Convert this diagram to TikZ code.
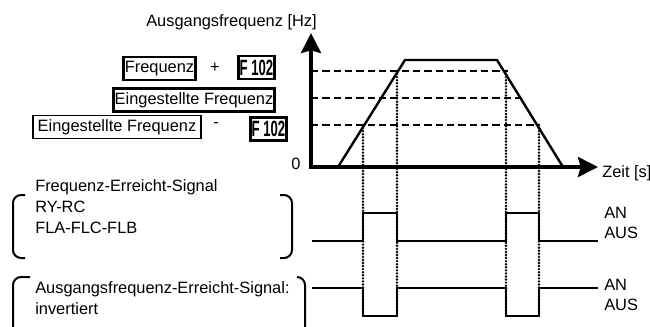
\documentclass[tikz,border=0pt]{standalone}
\usepackage{fontspec}
\setmainfont{Liberation Sans}
\usetikzlibrary{arrows.meta}

\tikzset{
  axis/.style={line width=2.6pt, {Stealth[length=15pt,width=15pt,inset=2pt]}-{Stealth[length=15pt,width=15pt,inset=2pt]}},
  ramp/.style={line width=1.8pt},
  level/.style={line width=1.6pt, dash pattern=on 5.5pt off 3pt},
  guide/.style={line width=2pt, line cap=round, dash pattern=on 0pt off 2.3pt},
  sig/.style={line width=1.6pt},
  brk/.style={line width=1.5pt, rounded corners=6pt},
  fbox/.style={draw, line width=1.8pt, inner xsep=1pt, inner ysep=0pt, minimum height=17pt},
  segtext/.style={fbox, font=\fontsize{12.3}{15}\selectfont\bfseries}
}

\begin{document}
\begin{tikzpicture}[x=0.75pt, y=-0.75pt, font=\fontsize{12.3}{15.75}\selectfont]
  \path[use as bounding box] (0,0) rectangle (650,326);

  % axes
  \coordinate (O) at (311,167);
  \coordinate (ytop) at (311,33);
  \coordinate (xend) at (598,167);
  \draw[axis] (ytop) -- (O) -- (xend);
  \node[anchor=east, inner sep=0pt] (ylabel) at (317,22) {Ausgangsfrequenz [Hz]};
  \node[anchor=west, inner sep=0pt] (xlabel) at (602,173) {Zeit [s]};
  \node[inner sep=0pt] (zero) at (296,164) {0};

  % output frequency
  \draw[ramp] (338,167) -- (405,60) -- (497,60) -- (563,167);
  \foreach \y/\e in {71/508, 98/523, 125/538}
    \draw[level] (311,\y) -- (\e,\y);
  \foreach \x/\y in {363/125, 397/71, 506/71, 539/125}
    \draw[guide] (\x,\y) -- (\x,316);

  % levels
  \node[fbox] (fq) at (159.5,68.5) {Frequenz};
  \node[inner sep=0pt] (plus) at (215,68) {+};
  \node[segtext] (fa) at (256.5,67.5) {\scalebox{0.8}[1.35]{F 102}};
  \node[fbox] (eg1) at (194,100) {Eingestellte Frequenz};
  \node[fbox, line width=1.2pt, minimum width=126pt] (eg2) at (117,127) {Eingestellte Frequenz};
  \node[inner sep=0pt] (minus) at (216,125) {-};
  \node[segtext] (fb) at (268.5,129) {\scalebox{0.8}[1.35]{F 102}};

  % signals
  \draw[sig] (312,241) -| (363,213) -| (397,241) -| (506,213) -| (539,241) -- (598,241);
  \draw[sig] (312,288) -| (363,316) -| (397,288) -| (506,316) -| (539,288) -- (598,288);
  \node[anchor=west, inner sep=0pt] (an1) at (604,213) {AN};
  \node[anchor=west, inner sep=0pt] (aus1) at (604,233) {AUS};
  \node[anchor=west, inner sep=0pt] (an2) at (604,285) {AN};
  \node[anchor=west, inner sep=0pt] (aus2) at (604,305) {AUS};

  % descriptions
  \node[anchor=north west, align=left, inner sep=0pt] (sig1) at (35,179)
    {Frequenz-Erreicht-Signal\\RY-RC\\FLA-FLC-FLB};
  \node[anchor=north west, align=left, inner sep=0pt] (sig2) at (35,281)
    {Ausgangsfrequenz-Erreicht-Signal:\\invertiert};
  \draw[brk] (25,195) -- (13,195) -- (13,258) -- (25,258);
  \draw[brk] (280,195) -- (292,195) -- (292,258) -- (280,258);
  \draw[brk] (30,277) -- (13,277) -- (13,340);
  \draw[brk] (297,277) -- (305,277) -- (305,340);
\end{tikzpicture}
\end{document}
